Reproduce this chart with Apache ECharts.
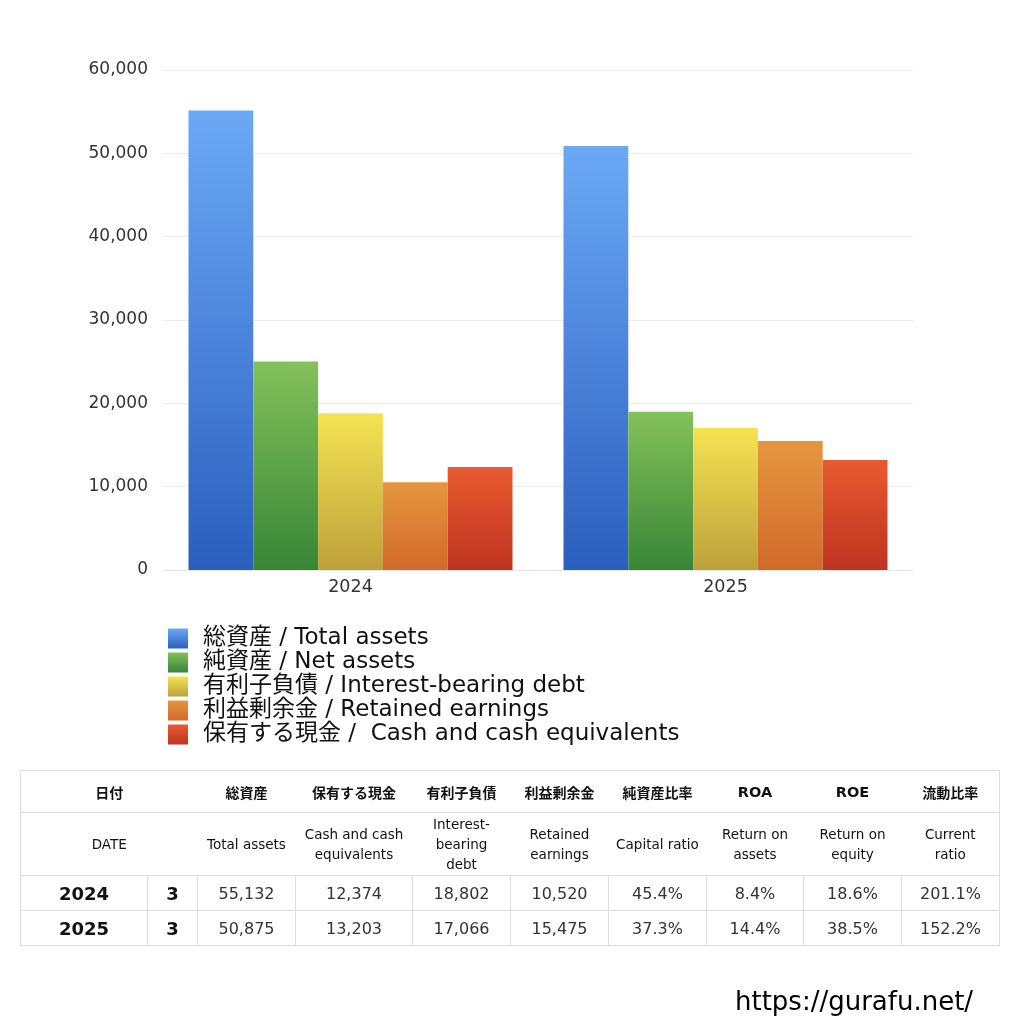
<!DOCTYPE html>
<html><head><meta charset="utf-8">
<script src="https://cdn.jsdelivr.net/npm/echarts@6/dist/echarts.min.js"></script>
<style>
html,body{margin:0;padding:0;background:#fff;}
#wrap{position:relative;width:1024px;height:1024px;font-family:"DejaVu Sans","Noto Sans CJK JP",sans-serif;}
#chart{position:absolute;left:0;top:0;width:1024px;height:1024px;}
table{position:absolute;left:20px;top:770px;border-collapse:collapse;table-layout:fixed;font-family:"DejaVu Sans","Noto Sans CJK JP",sans-serif;color:#111;}
td{border:1px solid #ddd;text-align:center;padding:0;}
tr.h1 td{height:41px;font-weight:bold;font-size:14px;border-left:none;border-right:none;font-family:"Noto Sans CJK JP",sans-serif;}
tr.h1 td.lat{font-family:"DejaVu Sans",sans-serif;font-size:14.5px;}
tr.h2 td{height:62px;font-size:13.5px;line-height:20px;border-left:none;border-right:none;}
tr.h1 td:first-child,tr.h2 td:first-child{border-left:1px solid #ddd;}
tr.h1 td:last-child,tr.h2 td:last-child{border-right:1px solid #ddd;}
tr.d td{height:34px;font-size:16px;color:#333;}
tr.d td.y{font-weight:bold;font-size:18px;color:#111;}
tr.d td.m{font-weight:bold;font-size:18px;color:#111;}
#wm{position:absolute;left:735px;top:986px;font-size:26px;font-family:"DejaVu Sans",sans-serif;color:#000;}
</style>
</head><body>
<div id="wrap">
<div id="chart"></div>
<table id="tbl"></table>
<div id="wm">https://gurafu.net/</div>
</div>
<script>
const years = ['2024','2025'];
const months = ['3','3'];
const seriesNames = ['総資産 / Total assets','純資産 / Net assets','有利子負債 / Interest-bearing debt','利益剰余金 / Retained earnings','保有する現金 /  Cash and cash equivalents'];
const totalAssets = [55132, 50875];
const netAssets = [25030, 18976];
const interestDebt = [18802, 17066];
const retainedEarnings = [10520, 15475];
const cash = [12374, 13203];
const capitalRatio = ['45.4%','37.3%'];
const roa = ['8.4%','14.4%'];
const roe = ['18.6%','38.5%'];
const currentRatio = ['201.1%','152.2%'];
const headJP = ['日付','','総資産','保有する現金','有利子負債','利益剰余金','純資産比率','ROA','ROE','流動比率'];
const headEN = ['DATE','','Total assets','Cash and cash<br>equivalents','Interest-<br>bearing<br>debt','Retained<br>earnings','Capital ratio','Return on<br>assets','Return on<br>equity','Current<br>ratio'];
const colWidths = [127,50,98,117,98,98,98,97,98,98];

const gradients = [
  ['#6ba9f6','#2b5ebd'],
  ['#84c15a','#378636'],
  ['#f5e352','#bda13a'],
  ['#e6963f','#d06a2a'],
  ['#e85a30','#bd3420']
];
const seriesData = [totalAssets, netAssets, interestDebt, retainedEarnings, cash];

const chart = echarts.init(document.getElementById('chart'), null, {renderer:'canvas'});
const font = '"DejaVu Sans","Noto Sans CJK JP",sans-serif';
chart.setOption({
  animation:false,
  grid:{left:163,right:111,top:70,height:500,containLabel:false},
  xAxis:{type:'category',data:years,
    axisLine:{lineStyle:{color:'#e6e6e6'}},axisTick:{show:false},
    axisLabel:{color:'#333',fontSize:17.5,margin:9,fontFamily:font}},
  yAxis:{type:'value',min:0,max:60000,interval:10000,
    axisLine:{show:false},axisTick:{show:false},
    splitLine:{lineStyle:{color:'#ececec'}},
    axisLabel:{color:'#333',fontSize:17,margin:15,fontFamily:font,
      formatter:v=>v.toLocaleString('en-US')}},
  legend:{orient:'vertical',left:163,top:622,itemWidth:20,itemHeight:20,itemGap:1,
    icon:'rect',
    textStyle:{fontSize:23,color:'#111',fontFamily:font,lineHeight:20,padding:[0,0,0,10]},
    data:seriesNames},
  series: seriesNames.map((n,i)=>({
    name:n,type:'bar',data:seriesData[i],barGap:'0%',barCategoryGap:'13.6%',
    itemStyle:{color:new echarts.graphic.LinearGradient(0,0,0,1,[{offset:0,color:gradients[i][0]},{offset:1,color:gradients[i][1]}])}
  }))
});

// table
const fmt = v=>v.toLocaleString('en-US');
const isLat = s=>/^[A-Za-z ]+$/.test(s);
let html = '<colgroup>'+colWidths.map(w=>'<col style="width:'+w+'px">').join('')+'</colgroup>';
html += '<tr class="h1"><td colspan="2">'+headJP[0]+'</td>'+headJP.slice(2).map(h=>'<td'+(isLat(h)?' class="lat"':'')+'>'+h+'</td>').join('')+'</tr>';
html += '<tr class="h2"><td colspan="2">'+headEN[0]+'</td>'+headEN.slice(2).map(h=>'<td>'+h+'</td>').join('')+'</tr>';
for(let i=0;i<years.length;i++){
  html += '<tr class="d"><td class="y">'+years[i]+'</td><td class="m">'+months[i]+'</td>'+
    [fmt(totalAssets[i]),fmt(cash[i]),fmt(interestDebt[i]),fmt(retainedEarnings[i]),capitalRatio[i],roa[i],roe[i],currentRatio[i]].map(v=>'<td>'+v+'</td>').join('')+'</tr>';
}
document.getElementById('tbl').innerHTML = html;
</script>
</body></html>
